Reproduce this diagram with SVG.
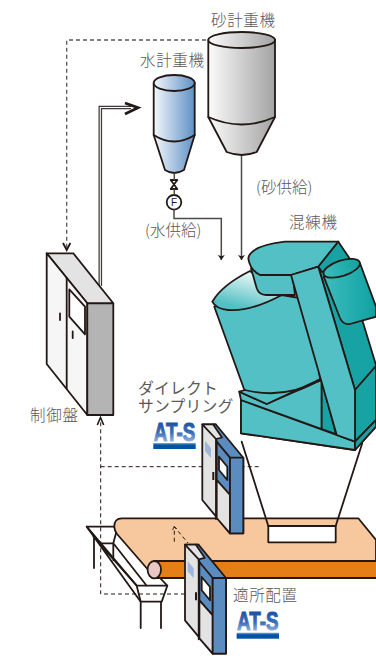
<svg xmlns="http://www.w3.org/2000/svg" xmlns:xlink="http://www.w3.org/1999/xlink" width="376" height="656" viewBox="0 0 376 656">
<style>
.o{stroke:#231815;stroke-width:1.8;stroke-linejoin:round;stroke-linecap:round}
.n{fill:none}
.t{fill:#52c0c4}
.d{fill:#17a3a4}
.l{font-family:"Noto Sans CJK JP","Liberation Sans",sans-serif;font-size:15.5px;font-weight:300;fill:#595757}
.k{font-family:"Liberation Sans","Noto Sans CJK JP",sans-serif;font-size:15.8px;letter-spacing:0.2px;fill:#595757}
.dash{fill:none;stroke:#231815;stroke-width:1;stroke-dasharray:4 3}
.ln{fill:none;stroke:#4d4a48;stroke-width:1.5}
</style>
<defs>
<linearGradient id="gs" x1="0" x2="1" y1="0" y2="0"><stop offset="0" stop-color="#fbfbfb"/><stop offset="1" stop-color="#a3a3a3"/></linearGradient>
<linearGradient id="gw" x1="0" x2="1" y1="0" y2="0"><stop offset="0" stop-color="#f4f8fc"/><stop offset="1" stop-color="#5e90c4"/></linearGradient>
<linearGradient id="gl" x1="0.85" x2="0.45" y1="0.05" y2="0.95"><stop offset="0" stop-color="#fff"/><stop offset="1" stop-color="#52c0c4"/></linearGradient>
<linearGradient id="gc" x1="0" x2="1" y1="0" y2="0"><stop offset="0" stop-color="#3dbcbd"/><stop offset="1" stop-color="#0fa2a2"/></linearGradient>
<linearGradient id="ga" x1="0" x2="0" y1="0" y2="1"><stop offset="0" stop-color="#14459a"/><stop offset="0.55" stop-color="#3b6fb8"/><stop offset="1" stop-color="#c0d0e8"/></linearGradient>
<linearGradient id="gb" x1="0" x2="0" y1="0" y2="1"><stop offset="0" stop-color="#8aa8d4"/><stop offset="0.35" stop-color="#0053a4"/><stop offset="1" stop-color="#0053a4"/></linearGradient>
<marker id="ah" markerWidth="5" markerHeight="7" refX="5" refY="3.5" orient="auto" markerUnits="userSpaceOnUse"><path d="M0 0L5 3.5L0 7L1.2 3.5Z" fill="#231815"/></marker>
<g id="unit">
<path class="o" d="M202.3 424.3H215.7L230 457.7V533.3L202.3 500Z" fill="#e3e3e3"/>
<path class="o" d="M213 424.3H215.7L243.3 457.7V533.3H230L216.7 441.7Z" fill="#5b8cc0"/>
<path class="o" d="M202.3 424.3H213L222 437.5L216 439Z" fill="#e3e3e3"/>
<path class="o" d="M216.7 441.7L230 457.7V495L216.7 480Z" fill="#5b8cc0"/>
<path class="o" d="M216.7 480L230 495V533.3L216.7 518Z" fill="#e3e3e3"/>
<path class="o" d="M230 457.7H243.3V533.3H230Z" fill="#5b8cc0"/>
<path class="o" d="M219 456.7L227.3 466.7V480L219 470Z" fill="#fff"/>
<path class="o n" d="M216 440V519"/>
<path d="M205 441L211 448V458L205 451Z" fill="#9db6da"/>
<path d="M213.3 472V480" stroke="#231815" stroke-width="2"/>
</g>
<g id="logo">
<text x="153.8" y="440.5" font-family="Liberation Sans,sans-serif" font-size="25" font-weight="700" textLength="41.4" lengthAdjust="spacingAndGlyphs" fill="url(#ga)" stroke="url(#ga)" stroke-width="1">AT-S</text>
<rect x="153.3" y="443" width="42.4" height="6" fill="url(#gb)"/>
</g>
</defs>

<g id="chute">
<path class="o" d="M86.7 526.7H114.3L116.7 533L160 578L167.3 585.7L161.7 601.7H140.7L136.7 585.7Z" fill="#fff"/>
<path class="o n" d="M93.3 536.7L136.7 585.7M86.7 526.7L100 543.3H113.3L146.7 585.7M116 533.3L113.3 543.3M136.7 585.7H167.3M140.7 601.7L86.7 526.7M94 537V568M113.3 543V560M140.7 602V628M161 602V628"/>
</g>

<g id="belt">
<path class="o" d="M376 540L358.3 518.3H122Q114 518.3 114.3 527Q114.3 530 117 534L150 572H376Z" fill="#f7c79d"/>
<path class="o" d="M376 561H154V578H376" fill="#e37f16"/>
<ellipse class="o" cx="154.3" cy="569.7" rx="6.7" ry="8.7" fill="#eac6c4"/>
<rect class="o" x="268.3" y="526" width="67.4" height="16.3" fill="#fff"/>
<path class="o n" d="M241.7 441.7L268.3 526M362.3 443L335.7 526"/>
</g>

<g id="mixer">
<path class="o d" d="M338.3 241.7L376 365V392L355 390L318.3 266.7Z"/>
<path class="o t" d="M241 400L241 433.3L355 450L376 426.7V366L355 390L355 441.7Z"/>
<path class="o d" d="M355 390L376 366V420L355 441.7Z"/>
<path class="o t" d="M241 400L355 441.7V450L241 433.3Z"/>
<path class="o d" d="M355 441.7L376 420V426.7L355 450Z"/>
<path class="o t" d="M241 400L239.3 391.7L266.7 404L321.7 380V429Z"/>
<path class="o t" d="M214.3 306.7L245 391.7Q285 402 320 379.3L312 300L281.7 295Z"/>
<path class="o" d="M212.3 301.7Q222 285 250 271L281.7 295Q250 312 228 310Q216 309 212.3 301.7Z" fill="url(#gl)"/>
<path class="o t" d="M239.3 391.7L245 390Q285 400 320 379.3L266.7 404Z"/>
<path class="o t" d="M251 268.3L256.7 288.3Q259 295 266 295H295L292 270Z"/>
<path class="o t" d="M248.3 258.3Q250 246 285 241.7H338.3L318.3 266.7L291 275H260Q250 270 248.3 258.3Z"/>
<path class="o d" d="M338.3 241.7L318.3 266.7L322 272L352 262Z"/>
<path class="o d" d="M321.7 380L336 434L321.7 429Z"/>
<path class="o t" d="M291 275L318.3 266.7L355 390V441.7L336.7 435Z"/>
<path class="o" d="M323.7 276.7L340 318Q343 325 350 324L376 316.7V306.7L360 263.3Z" fill="url(#gc)"/>
<ellipse class="o" cx="341.7" cy="268.3" rx="19" ry="7.7" transform="rotate(-18 341.7 268.3)" fill="url(#gc)"/>
</g>

<g id="sand-scale">
<path class="o" d="M208.3 40V117L226.7 152Q241.7 158 256.7 152L275 117V40Z" fill="url(#gs)"/>
<ellipse class="o" cx="241.7" cy="40" rx="33.4" ry="8" fill="url(#gs)"/>
<path class="o n" d="M208.3 117Q241.7 132 275 117"/>
</g>

<g id="water-scale">
<path class="o" d="M153.7 83V135L165 170Q174 176 184 170L194.7 135V83Z" fill="url(#gw)"/>
<ellipse class="o" cx="174.2" cy="83" rx="20.5" ry="8" fill="url(#gw)"/>
<path class="o n" d="M153.7 135Q174 148 194.7 135"/>
<path class="o" d="M170.7 180H177.3L170.7 189H177.3Z" fill="#fff" stroke-width="1.1"/>
<circle class="o" cx="174" cy="202.3" r="7.3" fill="#fff" stroke-width="1.1"/>
<text x="174" y="205.8" text-anchor="middle" font-family="Liberation Sans,sans-serif" font-size="10" fill="#231815">F</text>
</g>

<g id="connectors">
<path class="ln" d="M174.3 173V180M174.3 189V195"/>
<path class="ln" d="M174 209.6V218.5H221.3V260" marker-end="url(#ah)"/>
<path class="ln" d="M241.5 156V260" marker-end="url(#ah)"/>
<path d="M100.3 286V107.5H131" fill="none" stroke="#3e3a39" stroke-width="3.6"/>
<path d="M100.3 286V107.5H131" fill="none" stroke="#fff" stroke-width="1.1"/>
<path d="M125 103L138 107.7L125 114" fill="none" stroke="#231815" stroke-width="2.8"/>
<path d="M206 40H66.7V250" fill="none" stroke="#595757" stroke-width="1.3" stroke-dasharray="4 3"/>
<path d="M63 243L66.7 250L70.4 243" fill="none" stroke="#231815" stroke-width="1.8"/>
<path class="dash" d="M185 594H100.7V419"/>
<path class="dash" d="M100.7 466.7H260"/>
<path d="M97.3 425L100.5 417.5L103.7 425" fill="none" stroke="#231815" stroke-width="1.6"/>
<path class="dash" d="M174.3 541.7V526.7L188 543"/>
<path d="M172.5 530L174.3 526.5L176.8 529" fill="none" stroke="#231815" stroke-width="0.9"/>
</g>

<g id="control-panel">
<path class="o" d="M46.7 253.3H73.3L113.3 303.3H87.3Z" fill="#e3e3e3"/>
<path class="o" d="M46.7 253.3L87.3 303.3V415L46.7 364Z" fill="#f6f6f6"/>
<path class="o" d="M87.3 303.3H113.3V415H87.3Z" fill="#b4b4b4"/>
<path class="o n" d="M66.7 278.3V388.3"/>
<path class="o" d="M69.3 289.3L85 306.7V334.3L69.3 316.7Z" fill="#fff"/>
<path class="o n" d="M60 313.5V320M72.7 331.5V338"/>
</g>

<g id="direct-sampling-unit"><use xlink:href="#unit" href="#unit"/></g>
<g id="placement-unit"><use xlink:href="#unit" href="#unit" transform="translate(-17.3 120.3)"/></g>

<g id="labels">
<text class="l" x="211" y="26" textLength="64">砂計重機</text>
<text class="l" x="140" y="66" textLength="64">水計重機</text>
<text class="l" x="256" y="193">(砂供給)</text>
<text class="l" x="145" y="236">(水供給)</text>
<text class="l" x="289" y="228" textLength="48">混練機</text>
<text class="l" x="30" y="421" textLength="48">制御盤</text>
<text class="k"><tspan x="138" y="394.4">ダイレクト</tspan><tspan x="138" y="412.4">サンプリング</tspan></text>
<text class="l" x="233" y="601" textLength="64">適所配置</text>
<use xlink:href="#logo" href="#logo"/>
<use xlink:href="#logo" href="#logo" transform="translate(83.3 189.7)"/>
</g>
</svg>
